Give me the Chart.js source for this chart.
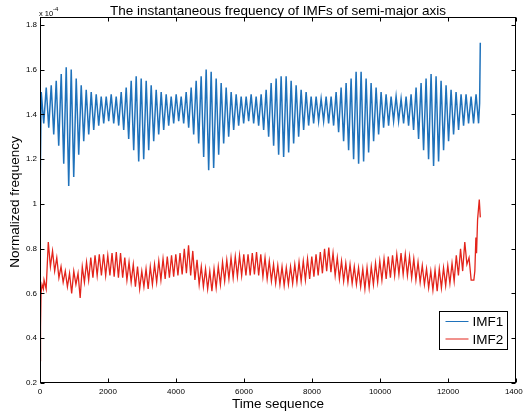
<!DOCTYPE html>
<html>
<head>
<meta charset="utf-8">
<title>Instantaneous frequency of IMFs</title>
<script src="https://cdn.jsdelivr.net/npm/chart.js@4.4.1/dist/chart.umd.min.js"></script>
<style>
  html, body { margin: 0; padding: 0; background: #fff; }
</style>
</head>
<body>
<canvas id="myChart" width="523" height="411"></canvas>
<script>
// axis ticks
const xTicks = [0, 2000, 4000, 6000, 8000, 10000, 12000, 14000];
const yTicks = [0.2, 0.4, 0.6, 0.8, 1, 1.2, 1.4, 1.6, 1.8];

// IMF1 (x 10^-4): one peak and one trough per oscillation
const imf1Period = 147;
const imf1FirstT = 73;
const imf1Peaks = [
  1.50, 1.52, 1.53, 1.55, 1.58, 1.61, 1.60, 1.56, 1.53, 1.51,
  1.50, 1.49, 1.48, 1.48, 1.49, 1.48, 1.50, 1.52, 1.55, 1.57,
  1.56, 1.55, 1.53, 1.51, 1.50, 1.49, 1.48, 1.49, 1.48, 1.50,
  1.52, 1.55, 1.57, 1.60, 1.59, 1.56, 1.54, 1.52, 1.50, 1.49,
  1.48, 1.48, 1.49, 1.48, 1.49, 1.51, 1.54, 1.56, 1.57, 1.57,
  1.55, 1.53, 1.51, 1.50, 1.48, 1.48, 1.47, 1.48, 1.48, 1.50,
  1.52, 1.54, 1.56, 1.59, 1.59, 1.56, 1.54, 1.52, 1.50, 1.49,
  1.48, 1.48, 1.47, 1.48, 1.49, 1.52, 1.54, 1.56, 1.58, 1.57,
  1.55, 1.53, 1.51, 1.50, 1.49, 1.49, 1.48, 1.49
];
const imf1Troughs = [
  1.36, 1.34, 1.31, 1.26, 1.18, 1.08, 1.12, 1.22, 1.28, 1.31,
  1.33, 1.35, 1.36, 1.37, 1.36, 1.35, 1.33, 1.29, 1.24, 1.19,
  1.20, 1.24, 1.28, 1.31, 1.33, 1.35, 1.36, 1.37, 1.36, 1.34,
  1.31, 1.27, 1.21, 1.15, 1.16, 1.22, 1.27, 1.30, 1.33, 1.35,
  1.36, 1.37, 1.36, 1.35, 1.33, 1.30, 1.26, 1.22, 1.21, 1.23,
  1.27, 1.30, 1.33, 1.35, 1.36, 1.37, 1.37, 1.36, 1.35, 1.32,
  1.28, 1.24, 1.20, 1.18, 1.19, 1.23, 1.28, 1.31, 1.34, 1.35,
  1.37, 1.37, 1.36, 1.35, 1.33, 1.29, 1.24, 1.20, 1.17, 1.19,
  1.24, 1.28, 1.31, 1.33, 1.35, 1.36, 1.36, 1.36
];
const imf1HeadT = [0, 15];
const imf1HeadV = [1.02, 1.02];
const imf1TailT = [12930, 12950];
const imf1TailV = [1.45, 1.72];

// IMF2 (x 10^-4)
const imf2Period = 125;
const imf2FirstT = 150;
const imf2Peaks = [
  0.66, 0.83, 0.79, 0.76, 0.72, 0.70, 0.69, 0.70, 0.69, 0.72,
  0.74, 0.76, 0.77, 0.775, 0.775, 0.77, 0.78, 0.785, 0.78, 0.76,
  0.74, 0.73, 0.72, 0.70, 0.71, 0.72, 0.73, 0.745, 0.755, 0.765,
  0.77, 0.775, 0.78, 0.80, 0.815, 0.79, 0.75, 0.72, 0.71, 0.70,
  0.71, 0.72, 0.74, 0.75, 0.76, 0.765, 0.77, 0.775, 0.775, 0.78,
  0.785, 0.775, 0.76, 0.745, 0.73, 0.725, 0.72, 0.715, 0.72, 0.73,
  0.74, 0.745, 0.755, 0.765, 0.775, 0.785, 0.80, 0.805, 0.78, 0.76,
  0.745, 0.735, 0.73, 0.72, 0.715, 0.71, 0.715, 0.72, 0.735, 0.745,
  0.755, 0.765, 0.77, 0.775, 0.78, 0.775, 0.765, 0.755, 0.74, 0.725,
  0.71, 0.70, 0.705, 0.71, 0.715, 0.725, 0.735, 0.77, 0.80, 0.83,
  0.76
];
const imf2Troughs = [
  0.62, 0.72, 0.70, 0.67, 0.65, 0.63, 0.60, 0.64, 0.58, 0.65,
  0.66, 0.67, 0.68, 0.68, 0.68, 0.68, 0.675, 0.67, 0.67, 0.66,
  0.65, 0.63, 0.62, 0.63, 0.62, 0.64, 0.65, 0.66, 0.665, 0.67,
  0.675, 0.68, 0.685, 0.69, 0.68, 0.66, 0.64, 0.63, 0.62, 0.61,
  0.625, 0.64, 0.655, 0.665, 0.67, 0.675, 0.68, 0.68, 0.68, 0.685,
  0.68, 0.675, 0.665, 0.655, 0.645, 0.64, 0.635, 0.64, 0.645, 0.65,
  0.655, 0.66, 0.665, 0.675, 0.68, 0.69, 0.70, 0.695, 0.68, 0.665,
  0.655, 0.65, 0.645, 0.64, 0.63, 0.62, 0.625, 0.64, 0.65, 0.66,
  0.665, 0.67, 0.68, 0.685, 0.685, 0.68, 0.67, 0.66, 0.65, 0.64,
  0.625, 0.615, 0.61, 0.625, 0.635, 0.645, 0.655, 0.68, 0.70, 0.73,
  0.66
];
const imf2HeadT = [0, 15, 30, 60, 100];
const imf2HeadV = [0.30, 0.45, 0.60, 0.64, 0.62];
const imf2TailT = [12760, 12790, 12820, 12840, 12870, 12920, 12950];
const imf2TailV = [0.66, 0.70, 0.85, 0.78, 0.93, 1.02, 0.94];

const FONT = "'Liberation Sans', Arial, sans-serif";

function buildSeries(headT, headV, firstT, period, peaks, troughs, tailT, tailV) {
  const pts = [];
  headT.forEach((t, i) => pts.push({ x: t, y: headV[i] }));
  peaks.forEach((p, k) => {
    const t = firstT + k * period;
    pts.push({ x: t - period / 4, y: p });
    pts.push({ x: t + period / 4, y: troughs[k] });
  });
  tailT.forEach((t, i) => pts.push({ x: t, y: tailV[i] }));
  return pts;
}

const imf1Data = buildSeries(imf1HeadT, imf1HeadV, imf1FirstT, imf1Period, imf1Peaks, imf1Troughs, imf1TailT, imf1TailV);
const imf2Data = buildSeries(imf2HeadT, imf2HeadV, imf2FirstT, imf2Period, imf2Peaks, imf2Troughs, imf2TailT, imf2TailV);

// matlab-ish box, inward ticks, texts and legend
const matlabBox = {
  id: "matlabBox",
  afterDraw(chart) {
    const { ctx, chartArea: a, scales } = chart;
    const L = Math.round(a.left) + 0.5, R = Math.round(a.right) - 0.5;
    const T = Math.round(a.top) + 0.5, B = Math.round(a.bottom) - 0.5;
    ctx.save();
    ctx.strokeStyle = "#000";
    ctx.lineWidth = 1;
    ctx.strokeRect(L, T, R - L, B - T);

    ctx.beginPath();
    xTicks.forEach((v) => {
      const px = Math.round(scales.x.getPixelForValue(v)) + 0.5;
      ctx.moveTo(px, B); ctx.lineTo(px, B - 4);
      ctx.moveTo(px, T); ctx.lineTo(px, T + 4);
    });
    yTicks.forEach((v) => {
      const py = Math.round(scales.y.getPixelForValue(v)) + 0.5;
      ctx.moveTo(L, py); ctx.lineTo(L + 4, py);
      ctx.moveTo(R, py); ctx.lineTo(R - 4, py);
    });
    ctx.stroke();

    ctx.fillStyle = "#000";
    // title
    ctx.font = "13.5px " + FONT;
    ctx.textAlign = "center";
    ctx.textBaseline = "alphabetic";
    ctx.fillText("The instantaneous frequency of IMFs of semi-major axis", (a.left + a.right) / 2, 14.5);

    // x label
    ctx.font = "13.5px " + FONT;
    ctx.fillText("Time sequence", (a.left + a.right) / 2, 407.5);

    // y label
    ctx.save();
    ctx.translate(19, 202);
    ctx.rotate(-Math.PI / 2);
    ctx.fillText("Normalized frequency", 0, 0);
    ctx.restore();

    // exponent
    ctx.textAlign = "left";
    ctx.font = "7.5px " + FONT;
    ctx.fillText("x 10", 39, 15.5);
    ctx.font = "6px " + FONT;
    ctx.fillText("-4", 53, 11);

    // legend
    const bx = 439.5, by = 311.5, bw = 68, bh = 38;
    ctx.fillStyle = "#fff";
    ctx.fillRect(bx, by, bw, bh);
    ctx.strokeRect(bx, by, bw, bh);
    ctx.font = "13.5px " + FONT;
    chart.data.datasets.forEach((ds, i) => {
      const ly = by + 10 + i * 17.5;
      ctx.strokeStyle = ds.borderColor;
      ctx.lineWidth = 1;
      ctx.beginPath();
      ctx.moveTo(bx + 6, ly);
      ctx.lineTo(bx + 29, ly);
      ctx.stroke();
      ctx.fillStyle = "#000";
      ctx.fillText(ds.label, bx + 33, ly + 4.8);
    });
    ctx.restore();
  }
};

new Chart(document.getElementById("myChart"), {
  type: "line",
  data: {
    datasets: [
      {
        label: "IMF1",
        data: imf1Data,
        borderColor: "#1f72bb",
        borderWidth: 1.5,
        pointRadius: 0,
        tension: 0,
        fill: false,
      },
      {
        label: "IMF2",
        data: imf2Data,
        borderColor: "#e3241b",
        borderWidth: 1.3,
        pointRadius: 0,
        tension: 0,
        fill: false,
      },
    ],
  },
  options: {
    responsive: false,
    animation: false,
    devicePixelRatio: 1,
    parsing: false,
    layout: { padding: { top: 17, right: 7, left: 0, bottom: 0 } },
    plugins: {
      legend: { display: false },
      title: { display: false },
      tooltip: { enabled: false },
    },
    scales: {
      x: {
        type: "linear",
        min: 0,
        max: 14000,
        afterBuildTicks: (s) => { s.ticks = xTicks.map((v) => ({ value: v })); },
        afterFit: (s) => { s.height = 28; s.paddingLeft = 0; s.paddingRight = 0; },
        grid: { display: false, drawTicks: false },
        border: { display: false },
        ticks: {
          autoSkip: false,
          maxRotation: 0,
          padding: 4,
          color: "#000",
          font: { size: 8, family: FONT },
          callback: (v) => String(v),
        },
      },
      y: {
        type: "linear",
        min: 0.2,
        max: 1.835,
        afterBuildTicks: (s) => { s.ticks = yTicks.map((v) => ({ value: v })); },
        afterFit: (s) => { s.width = 40; s.paddingTop = 0; s.paddingBottom = 0; },
        grid: { display: false, drawTicks: false },
        border: { display: false },
        ticks: {
          autoSkip: false,
          padding: 3,
          color: "#000",
          font: { size: 8, family: FONT },
          callback: (v) => String(v),
        },
      },
    },
  },
  plugins: [matlabBox],
});
</script>
</body>
</html>
